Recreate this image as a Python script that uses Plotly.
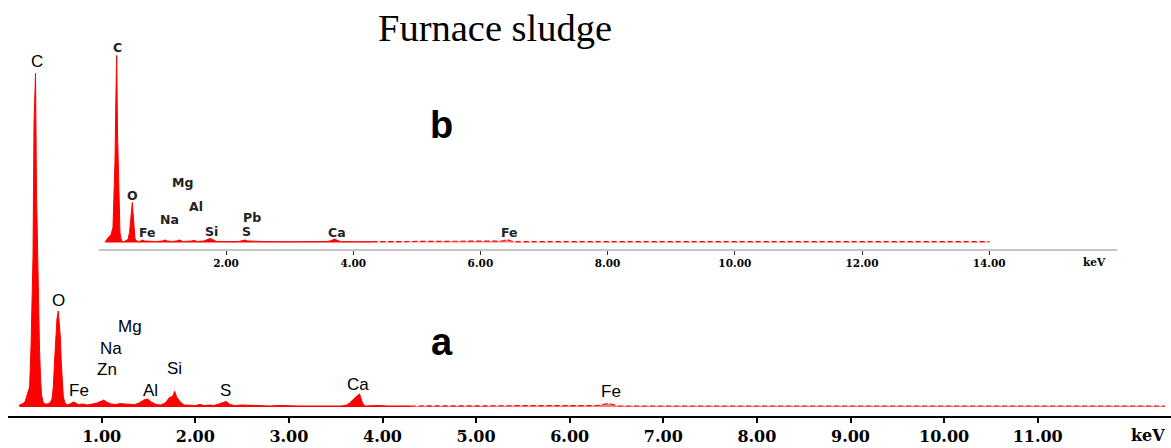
import plotly.graph_objects as go

# ---------------- data ----------------
# Spectrum a (main): energy (keV) and counts
a_energy = [0.12, 0.15, 0.18, 0.19, 0.21, 0.23, 0.245, 0.255, 0.266, 0.277, 0.293, 0.303, 0.314,
            0.325, 0.335, 0.346, 0.357, 0.373, 0.394, 0.42, 0.448, 0.469, 0.483, 0.496, 0.506,
            0.522, 0.536, 0.547, 0.558, 0.568, 0.579, 0.590, 0.608, 0.63, 0.66, 0.70, 0.72, 0.75,
            0.80, 0.85, 0.90, 0.95, 1.00, 1.02, 1.05, 1.10, 1.15, 1.20, 1.25, 1.30, 1.35, 1.40,
            1.45, 1.49, 1.53, 1.58, 1.63, 1.68, 1.72, 1.76, 1.78, 1.80, 1.84, 1.88, 1.95, 2.00,
            2.05, 2.10, 2.15, 2.20, 2.25, 2.30, 2.33, 2.37, 2.42, 2.50, 2.60, 2.70, 2.80, 2.90,
            3.00, 3.10, 3.20, 3.30, 3.40, 3.50, 3.56, 3.62, 3.65, 3.68, 3.71, 3.74, 3.755, 3.77,
            3.79, 3.82, 3.88, 3.95, 4.05, 4.20, 4.30,
            4.5, 5.0, 5.5, 6.0, 6.30, 6.38, 6.42, 6.46, 6.52, 7.0, 8.0, 9.0, 10.0, 11.0, 12.36]
a_counts = [20, 30, 50, 80, 120, 200, 600, 1100, 1500, 2840, 3340, 2170, 1500,
            1000, 600, 300, 120, 50, 30, 30, 40, 80, 200, 450, 670,
            880, 960, 850, 700, 450, 220, 100, 40, 20, 30, 50, 40, 25,
            30, 20, 30, 40, 60, 70, 50, 30, 25, 35, 30, 30, 25, 40,
            70, 80, 50, 25, 20, 40, 90, 110, 157, 100, 50, 20, 20, 15,
            25, 15, 20, 15, 30, 50, 55, 25, 15, 20, 15, 15, 10, 15,
            10, 10, 10, 10, 10, 10, 10, 20, 40, 70, 100, 120, 130, 80,
            30, 10, 15, 15, 10, 10, 10,
            10, 10, 10, 10, 15, 30, 35, 25, 10, 10, 10, 10, 10, 10, 10]

# Spectrum b (inset): energy (keV) and counts
b_energy = [0.10, 0.145, 0.192, 0.223, 0.239, 0.255, 0.270, 0.281, 0.294, 0.307, 0.318, 0.333,
            0.349, 0.365, 0.40, 0.43, 0.459, 0.483, 0.498, 0.514, 0.527, 0.538, 0.553, 0.569,
            0.585, 0.62, 0.66, 0.69, 0.72, 0.80, 0.90, 1.00, 1.04, 1.08, 1.15, 1.22, 1.27, 1.32,
            1.40, 1.46, 1.50, 1.55, 1.65, 1.72, 1.75, 1.79, 1.85, 2.00, 2.10, 2.20, 2.27, 2.30,
            2.34, 2.45, 2.6, 2.8, 3.0, 3.2, 3.4, 3.6, 3.66, 3.70, 3.74, 3.80, 4.0, 4.3,
            4.5, 5.0, 5.5, 6.0, 6.35, 6.42, 6.48, 6.55, 7.0, 8.0, 10.0, 12.0, 14.0]
b_counts = [10, 40, 80, 150, 400, 820, 1500, 1870, 1100, 720, 300, 100,
            40, 10, 10, 20, 30, 100, 200, 320, 400, 300, 140, 40,
            20, 10, 15, 25, 15, 10, 10, 15, 25, 15, 10, 15, 25, 10,
            10, 15, 20, 10, 15, 35, 40, 30, 10, 10, 10, 10, 20, 25,
            15, 10, 10, 8, 8, 8, 8, 10, 20, 35, 25, 10, 8, 8,
            8, 8, 8, 8, 15, 30, 15, 8, 8, 8, 8, 8, 8]

a_ticks = [1, 2, 3, 4, 5, 6, 7, 8, 9, 10, 11]
b_ticks = [2, 4, 6, 8, 10, 12, 14]

a_labels = ["C", "O", "Mg", "Na", "Zn", "Fe", "Al", "Si", "S", "Ca", "Fe"]
b_labels = ["C", "O", "Mg", "Al", "Na", "Fe", "Si", "Pb", "S", "Ca", "Fe"]

title = "Furnace sludge"

# ---------------- figure ----------------
W, H = 1171, 448
RED = "#ff0000"
TAIL = 4.3  # start of the sparse (dashed-looking) background region

def split(e, c):
    solid = [(x, y) for x, y in zip(e, c) if x <= TAIL]
    tail = [(x, y) for x, y in zip(e, c) if x >= TAIL]
    return solid, tail

fig = go.Figure()

for (e, c, xa, ya) in [(a_energy, a_counts, "x", "y"), (b_energy, b_counts, "x2", "y2")]:
    solid, tail = split(e, c)
    fig.add_trace(go.Scatter(x=[p[0] for p in solid], y=[p[1] for p in solid],
                             mode="lines", fill="tozeroy", fillcolor=RED,
                             line=dict(color=RED, width=1), xaxis=xa, yaxis=ya,
                             hoverinfo="skip", showlegend=False))
    fig.add_trace(go.Scatter(x=[p[0] for p in tail], y=[p[1] for p in tail],
                             mode="lines", fill="tozeroy", fillcolor="rgba(255,0,0,0.5)",
                             line=dict(color=RED, width=1.2, dash="5px,3px"),
                             xaxis=xa, yaxis=ya, hoverinfo="skip", showlegend=False))

def py(p):
    return 1 - p / H

def px(p):
    return p / W

# axes geometry (pixels)
a_x0, a_kev_px = 8.1, 93.6
a_base, a_axis, a_top = 407, 416, 40
b_x0, b_kev_px, b_x1 = 98.8, 63.6, 1117
b_base, b_axis, b_top = 242.5, 248.5, 40

tickfont_a = dict(family="DejaVu Serif", size=16, color="black", weight="bold")
tickfont_b = dict(family="DejaVu Serif", size=10.5, color="black", weight="bold")

fig.update_layout(
    width=W, height=H,
    margin=dict(l=0, r=0, t=0, b=0),
    paper_bgcolor="white", plot_bgcolor="rgba(0,0,0,0)",
    xaxis=dict(domain=[px(a_x0), 1], range=[0, (W - a_x0) / a_kev_px], anchor="y",
               showgrid=False, zeroline=False, showline=True, linecolor="black", linewidth=2,
               ticks="outside", ticklen=5, tickwidth=1.5, tickcolor="black",
               tickvals=a_ticks, ticktext=[f"{t:.2f}" for t in a_ticks], tickfont=tickfont_a),
    yaxis=dict(domain=[py(a_axis), py(a_top)],
               range=[(a_base - a_axis) * 10, (a_base - a_top) * 10],
               visible=False, anchor="x"),
    xaxis2=dict(domain=[px(b_x0), px(b_x1)], range=[0, (b_x1 - b_x0) / b_kev_px], anchor="y2",
                showgrid=False, zeroline=False, showline=True, linecolor="#c4c4c4", linewidth=2,
                ticks="outside", ticklen=4, tickwidth=1, tickcolor="#333",
                tickvals=b_ticks, ticktext=[f"{t:.2f}" for t in b_ticks], tickfont=tickfont_b),
    yaxis2=dict(domain=[py(b_axis), py(b_top)],
                range=[(b_base - b_axis) * 10, (b_base - b_top) * 10],
                visible=False, anchor="x2"),
)

# peak labels (positions in keV / counts)
a_label_pos = [(0.306, 3453), (0.536, 1063), (1.302, 803), (1.099, 587), (1.053, 377),
               (0.761, 170), (1.523, 170), (1.776, 387), (2.325, 170), (3.735, 230), (6.438, 153)]
b_label_pos = [(0.291, 1952), (0.527, 475), (1.319, 602), (1.528, 358), (1.108, 232),
               (0.763, 98), (1.775, 115), (2.404, 248), (2.325, 108), (3.750, 105), (6.465, 102)]

for lab, (x, y) in zip(a_labels, a_label_pos):
    fig.add_annotation(x=x, y=y, xref="x", yref="y", text=lab, showarrow=False,
                       font=dict(family="Liberation Sans", size=17, color="black"),
                       xanchor="center", yanchor="middle")
for lab, (x, y) in zip(b_labels, b_label_pos):
    fig.add_annotation(x=x, y=y, xref="x2", yref="y2", text=lab, showarrow=False,
                       font=dict(family="DejaVu Sans", size=12.5, color="#222", weight="bold"),
                       xanchor="center", yanchor="middle")

# panel letters, units, title
fig.add_annotation(x=px(441.7), y=py(341.7), xref="paper", yref="paper", text="a",
                   showarrow=False, xanchor="center", yanchor="middle",
                   font=dict(family="Liberation Sans", size=38, color="black", weight="bold"))
fig.add_annotation(x=px(441), y=py(125), xref="paper", yref="paper", text="b",
                   showarrow=False, xanchor="center", yanchor="middle",
                   font=dict(family="Liberation Sans", size=38, color="black", weight="bold"))
fig.add_annotation(x=px(1148), y=py(435), xref="paper", yref="paper", text="keV",
                   showarrow=False, xanchor="center", yanchor="middle",
                   font=dict(family="DejaVu Serif", size=16, color="black", weight="bold"))
fig.add_annotation(x=px(1094), y=py(262), xref="paper", yref="paper", text="keV",
                   showarrow=False, xanchor="center", yanchor="middle",
                   font=dict(family="DejaVu Serif", size=10.5, color="black", weight="bold"))
fig.add_annotation(x=px(495), y=py(28), xref="paper", yref="paper", text=title,
                   showarrow=False, xanchor="center", yanchor="middle",
                   font=dict(family="Liberation Serif", size=38.5, color="black"))

fig.write_html("out.html",
               config={"displayModeBar": False},
               post_script="document.body.style.margin='0';document.body.style.overflow='hidden';")
